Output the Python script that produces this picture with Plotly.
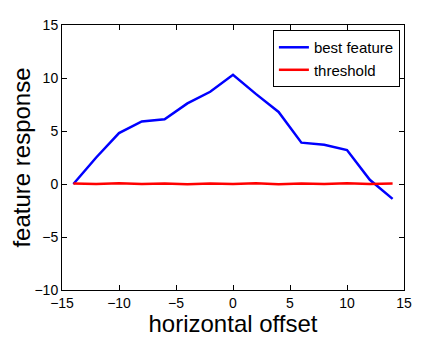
import plotly.graph_objects as go

offsets = [-14, -12, -10, -8, -6, -4, -2, 0, 2, 4, 6, 8, 10, 12, 14]
best_feature = [0.0, 2.5, 4.8, 5.9, 6.1, 7.6, 8.7, 10.3, 8.5, 6.8, 3.9, 3.7, 3.2, 0.4, -1.4]
threshold = [0.05, 0.0, 0.06, 0.0, 0.05, -0.02, 0.05, 0.0, 0.06, -0.02, 0.05, 0.0, 0.06, 0.0, 0.04]

x_ticks = [-15, -10, -5, 0, 5, 10, 15]
y_ticks = [-10, -5, 0, 5, 10, 15]

fig = go.Figure()
fig.add_trace(go.Scatter(x=offsets, y=best_feature, mode="lines", name="best feature",
                         line=dict(color="#0000ff", width=2.5)))
fig.add_trace(go.Scatter(x=offsets, y=threshold, mode="lines", name="threshold",
                         line=dict(color="#ff0000", width=2.5)))

axis_common = dict(showgrid=False, zeroline=False, showline=True, linecolor="black", linewidth=1,
                   mirror="allticks", ticks="inside", ticklen=5, tickcolor="black", automargin=False,
                   tickfont=dict(family="Liberation Sans", size=14, color="black"))

fig.update_xaxes(range=[-15, 15], tickvals=x_ticks, ticktext=[str(v).replace("-", "\u2212") for v in x_ticks],
                 title=dict(text="horizontal offset", font=dict(family="Liberation Sans", size=24, color="black"),
                            standoff=0),
                 **axis_common)
fig.update_yaxes(range=[-10, 15], tickvals=y_ticks, ticktext=[str(v).replace("-", "\u2212") for v in y_ticks],
                 title=dict(text="feature response", font=dict(family="Liberation Sans", size=24, color="black"),
                            standoff=1),
                 **axis_common)

# the page body adds an 8px offset, so the figure is shrunk to fit the window
fig.update_layout(
    width=440, height=329,
    margin=dict(l=54, r=44, t=17, b=47),
    paper_bgcolor="white", plot_bgcolor="white",
    legend=dict(x=0.988, y=0.981, xanchor="right", yanchor="top", bgcolor="white",
                bordercolor="black", borderwidth=1, tracegroupgap=0,
                font=dict(family="Liberation Sans", size=15, color="black")),
)

fig.write_html("out.html")
